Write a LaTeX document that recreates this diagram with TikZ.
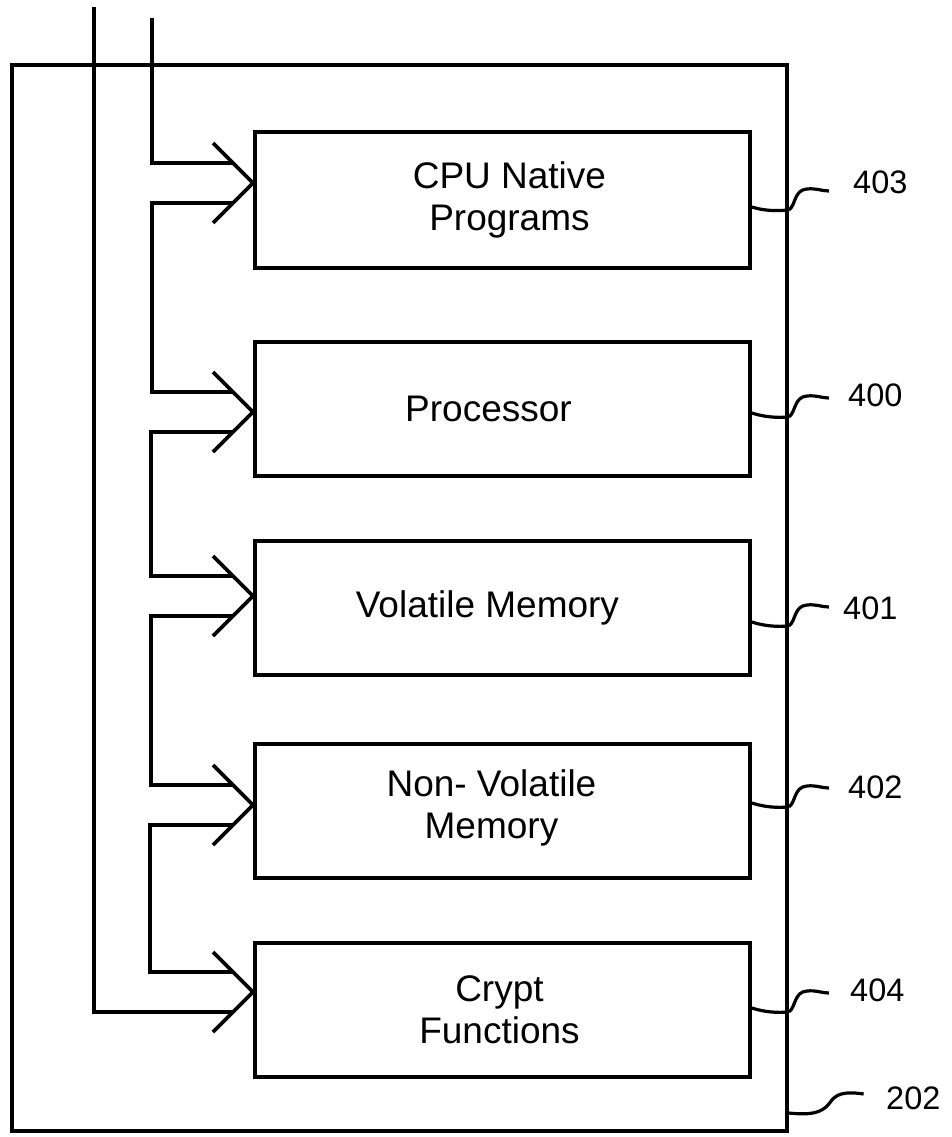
\documentclass[tikz,border=0pt]{standalone}
\usepackage{fontspec}
\setmainfont{Liberation Sans}
\usetikzlibrary{calc}
\newcommand{\squig}[1]{%
  \draw[lead] (#1) .. controls ($(#1)+(7,-5)$) and ($(#1)+(5,-20)$) .. ($(#1)+(18,-21)$)
    .. controls ($(#1)+(27,-22)$) and ($(#1)+(33,-19)$) .. ($(#1)+(40,-19)$);}
\newcommand{\sag}[2]{%
  \draw[lead] (#1) .. controls ($(#1)+(12,4)$) and ($(#2)+(-12,1)$) .. (#2);}
\newcommand{\barbs}[1]{%
  \draw[wire] ($(#1)+(-40,-40)$) -- (#1) -- ($(#1)+(-40,40)$);}
\begin{document}
\begin{tikzpicture}[x=1pt,y=-1pt,
  wire/.style={line width=3.8pt},
  lead/.style={line width=3.2pt},
  blk/.style={draw, line width=3.9pt, minimum width=495pt, inner sep=0pt,
    anchor=north west},
  txt/.style={align=center, inner sep=0pt, font=\fontsize{37}{42}\selectfont},
  lbl/.style={anchor=west, inner sep=0pt, font=\fontsize{32.5}{38}\selectfont}]
\useasboundingbox (0,0) rectangle (951,1137);
\fill[white] (0,0) rectangle (951,1137);

% outer box 202
\node[draw, line width=3.6pt, minimum width=775pt, minimum height=1066pt,
  inner sep=0pt, anchor=north west] (outer) at (10,63) {};

% blocks
\node[blk, minimum height=136pt] (cpu)   at (253,130) {};
\node[blk, minimum height=134pt] (proc)  at (253,340) {};
\node[blk, minimum height=134pt] (vol)   at (253,539) {};
\node[blk, minimum height=134pt] (nvol)  at (253,742) {};
\node[blk, minimum height=134pt] (crypt) at (253,941) {};

\node[txt, xshift=7pt]   (cpuT)   at (cpu.center)   {CPU Native\\Programs};
\node[txt, xshift=-14pt] (procT)  at (proc.center)  {Processor};
\node[txt, xshift=-15pt] (volT)   at (vol.center)   {Volatile Memory};
\node[txt, xshift=-11pt, yshift=3pt] (nvolT)  at (nvol.center)  {Non- Volatile\\Memory};
\node[txt, xshift=-3pt]  (cryptT) at (crypt.center) {Crypt\\Functions};

% arrow tips on the blocks
\coordinate (t1) at ($(cpu.north west)+(0,53)$);
\coordinate (t2) at ($(proc.north west)+(0,72)$);
\coordinate (t3) at ($(vol.north west)+(0,57)$);
\coordinate (t4) at ($(nvol.north west)+(0,63)$);
\coordinate (t5) at ($(crypt.north west)+(0,51)$);

% free ends of the two incoming lines
\coordinate (topA) at (94,7);
\coordinate (topB) at (152,18);

% bus wiring
\draw[wire] (topA) |- ($(t5)+(-20,20)$);
\draw[wire] (topB) |- ($(t1)+(-20,-20)$);
\draw[wire] ($(t1)+(-20,20)$) -- ++(-81,0) |- ($(t2)+(-20,-20)$);
\draw[wire] ($(t2)+(-20,20)$) -- ++(-82,0) |- ($(t3)+(-20,-20)$);
\draw[wire] ($(t3)+(-20,20)$) -- ++(-82,0) |- ($(t4)+(-20,-20)$);
\draw[wire] ($(t4)+(-20,20)$) -- ++(-83,0) |- ($(t5)+(-20,-20)$);

% open arrowheads
\barbs{t1}\barbs{t2}\barbs{t3}\barbs{t4}\barbs{t5}

% right-hand leaders
\coordinate (r1) at ($(cpu.north east)+(0,77)$);
\coordinate (r2) at ($(proc.north east)+(0,73)$);
\coordinate (r3) at ($(vol.north east)+(0,83)$);
\coordinate (r4) at ($(nvol.north east)+(0,61)$);
\coordinate (r5) at ($(crypt.north east)+(0,67)$);
\coordinate (s1) at ($(r1)+(37,3)$);
\coordinate (s2) at ($(r2)+(37,4)$);
\coordinate (s3) at ($(r3)+(37,4)$);
\coordinate (s4) at ($(r4)+(37,4)$);
\coordinate (s5) at ($(r5)+(37,4)$);
\sag{r1}{s1}\sag{r2}{s2}\sag{r3}{s3}\sag{r4}{s4}\sag{r5}{s5}
\squig{s1}\squig{s2}\squig{s3}\squig{s4}\squig{s5}

\coordinate (s6) at ($(outer.north east)+(0,1050)$);
\draw[lead] (s6) .. controls ($(s6)+(20,2)$) and ($(s6)+(33,1)$) .. ($(s6)+(41,-10)$)
  .. controls ($(s6)+(47,-19)$) and ($(s6)+(55,-22)$) .. ($(s6)+(75,-19)$);

% reference numerals
\node[lbl] (n403) at (853,182) {403};
\node[lbl] (n400) at (848,395) {400};
\node[lbl] (n401) at (843,608) {401};
\node[lbl] (n402) at (848,787) {402};
\node[lbl] (n404) at (850,990) {404};
\node[lbl] (n202) at (886,1098) {202};
\end{tikzpicture}
\end{document}
